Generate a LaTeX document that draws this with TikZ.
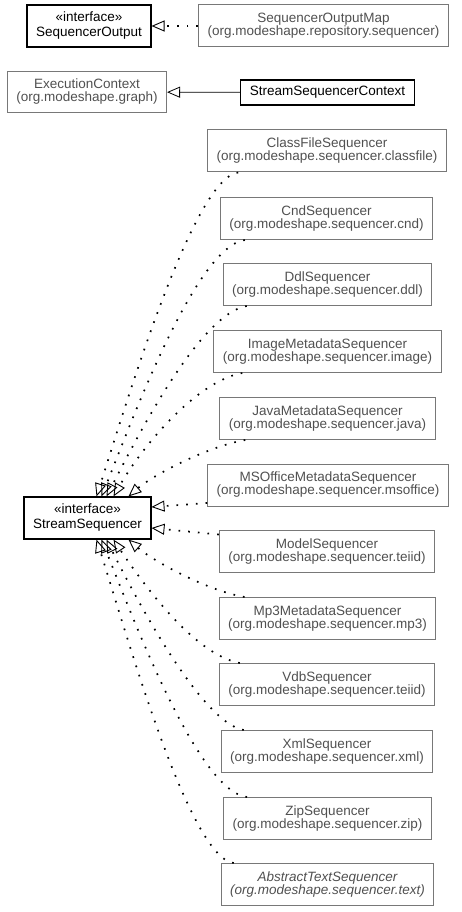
\documentclass[tikz,border=0pt]{standalone}
\usepackage{fontspec}
\setmainfont{Liberation Sans}
\usepackage{tikz}
\usetikzlibrary{arrows.meta}
\usetikzlibrary{positioning}

\definecolor{umlgray}{RGB}{120,120,120}
\definecolor{umltext}{RGB}{80,80,80}

\tikzset{
  cls/.style={draw, line width=1.2pt, align=center, inner xsep=9pt, inner ysep=0pt,
    minimum height=42pt, font=\fontsize{13.5}{13}\selectfont},
  extcls/.style={cls, draw=umlgray, line width=1pt, text=umltext},
  impl/.style={line width=1.7pt, dash pattern=on 1.7pt off 8pt,
    -{Triangle[open, length=13pt, width=11pt, line width=0.9pt]}},
  gen/.style={line width=0.8pt, -{Triangle[open, length=13pt, width=11pt]}}
}

\begin{document}
\begin{tikzpicture}[x=1pt,y=-1pt]
    \useasboundingbox (0,0) rectangle (461,912);

    \node[cls] (out) at (89,26) {«interface»\\[2pt]SequencerOutput};
    \node[extcls] (outmap) at (323.5,26) {SequencerOutputMap\\(org.modeshape.repository.sequencer)};
    \node[extcls, minimum height=41pt] (ctx) at (87,92) {ExecutionContext\\(org.modeshape.graph)};
    \node[cls, minimum height=25pt] (ssctx) at (327.5,92.5) {StreamSequencerContext};

    \node[cls] (ss) at (87.5,518) {«interface»\\[2pt]StreamSequencer};

    \node[extcls] (cfs) at (327,151) {ClassFileSequencer\\(org.modeshape.sequencer.classfile)};
    \node[extcls] (cnd) at (326.5,218.5) {CndSequencer\\(org.modeshape.sequencer.cnd)};
    \node[extcls] (ddl) at (327.5,284.5) {DdlSequencer\\(org.modeshape.sequencer.ddl)};
    \node[extcls] (img) at (327.5,351.5) {ImageMetadataSequencer\\(org.modeshape.sequencer.image)};
    \node[extcls] (java) at (327.5,418.5) {JavaMetadataSequencer\\(org.modeshape.sequencer.java)};
    \node[extcls] (mso) at (328,485) {MSOfficeMetadataSequencer\\(org.modeshape.sequencer.msoffice)};
    \node[extcls] (model) at (327,551.5) {ModelSequencer\\(org.modeshape.sequencer.teiid)};
    \node[extcls] (mp3) at (327.5,618.5) {Mp3MetadataSequencer\\(org.modeshape.sequencer.mp3)};
    \node[extcls] (vdb) at (327,684.5) {VdbSequencer\\(org.modeshape.sequencer.teiid)};
    \node[extcls] (xml) at (327,751.5) {XmlSequencer\\(org.modeshape.sequencer.xml)};
    \node[extcls] (zip) at (327.5,818.5) {ZipSequencer\\(org.modeshape.sequencer.zip)};
    \node[extcls, font=\fontsize{13.5}{13}\selectfont\itshape] (ats) at (327.5,884.5) {AbstractTextSequencer\\(org.modeshape.sequencer.text)};

    \draw[impl] (outmap) -- (out);
    \draw[gen] (ssctx) -- (ctx);

    % upper implementations
    \draw[impl] ([xshift=31]cfs.south west) .. controls +(-45,5) and +(29,-90) .. ([xshift=73]ss.north west);
    \draw[impl] ([xshift=25]cnd.south west) .. controls +(-50,7) and +(28,-69) .. ([xshift=78]ss.north west);
    \draw[impl] ([xshift=24]ddl.south west) .. controls +(-48,8) and +(27,-52) .. ([xshift=83]ss.north west);
    \draw[impl] ([xshift=29]img.south west) .. controls +(-45,8) and +(30,-52) .. ([xshift=90]ss.north west);
    \draw[impl] ([xshift=26]java.south west) .. controls +(-40,7) and +(23,-20) .. ([xshift=105]ss.north west);
    \draw[impl] ([yshift=-18]mso.west) -- ([yshift=11]ss.east);
    \draw[impl] ([yshift=17]model.west) -- ([yshift=-10]ss.east);
    % lower implementations
    \draw[impl] ([xshift=26]mp3.north west) .. controls +(-40,-7) and +(23,20) .. ([xshift=105]ss.south west);
    \draw[impl] ([xshift=21]vdb.north west) .. controls +(-45,-8) and +(30,45) .. ([xshift=90]ss.south west);
    \draw[impl] ([xshift=23]xml.north west) .. controls +(-43,-7) and +(26,52) .. ([xshift=83]ss.south west);
    \draw[impl] ([xshift=24]zip.north west) .. controls +(-50,-5) and +(28,69) .. ([xshift=78]ss.south west);
    \draw[impl] ([xshift=13]ats.north west) .. controls +(-45,-5) and +(29,90) .. ([xshift=73]ss.south west);
\end{tikzpicture}
\end{document}
